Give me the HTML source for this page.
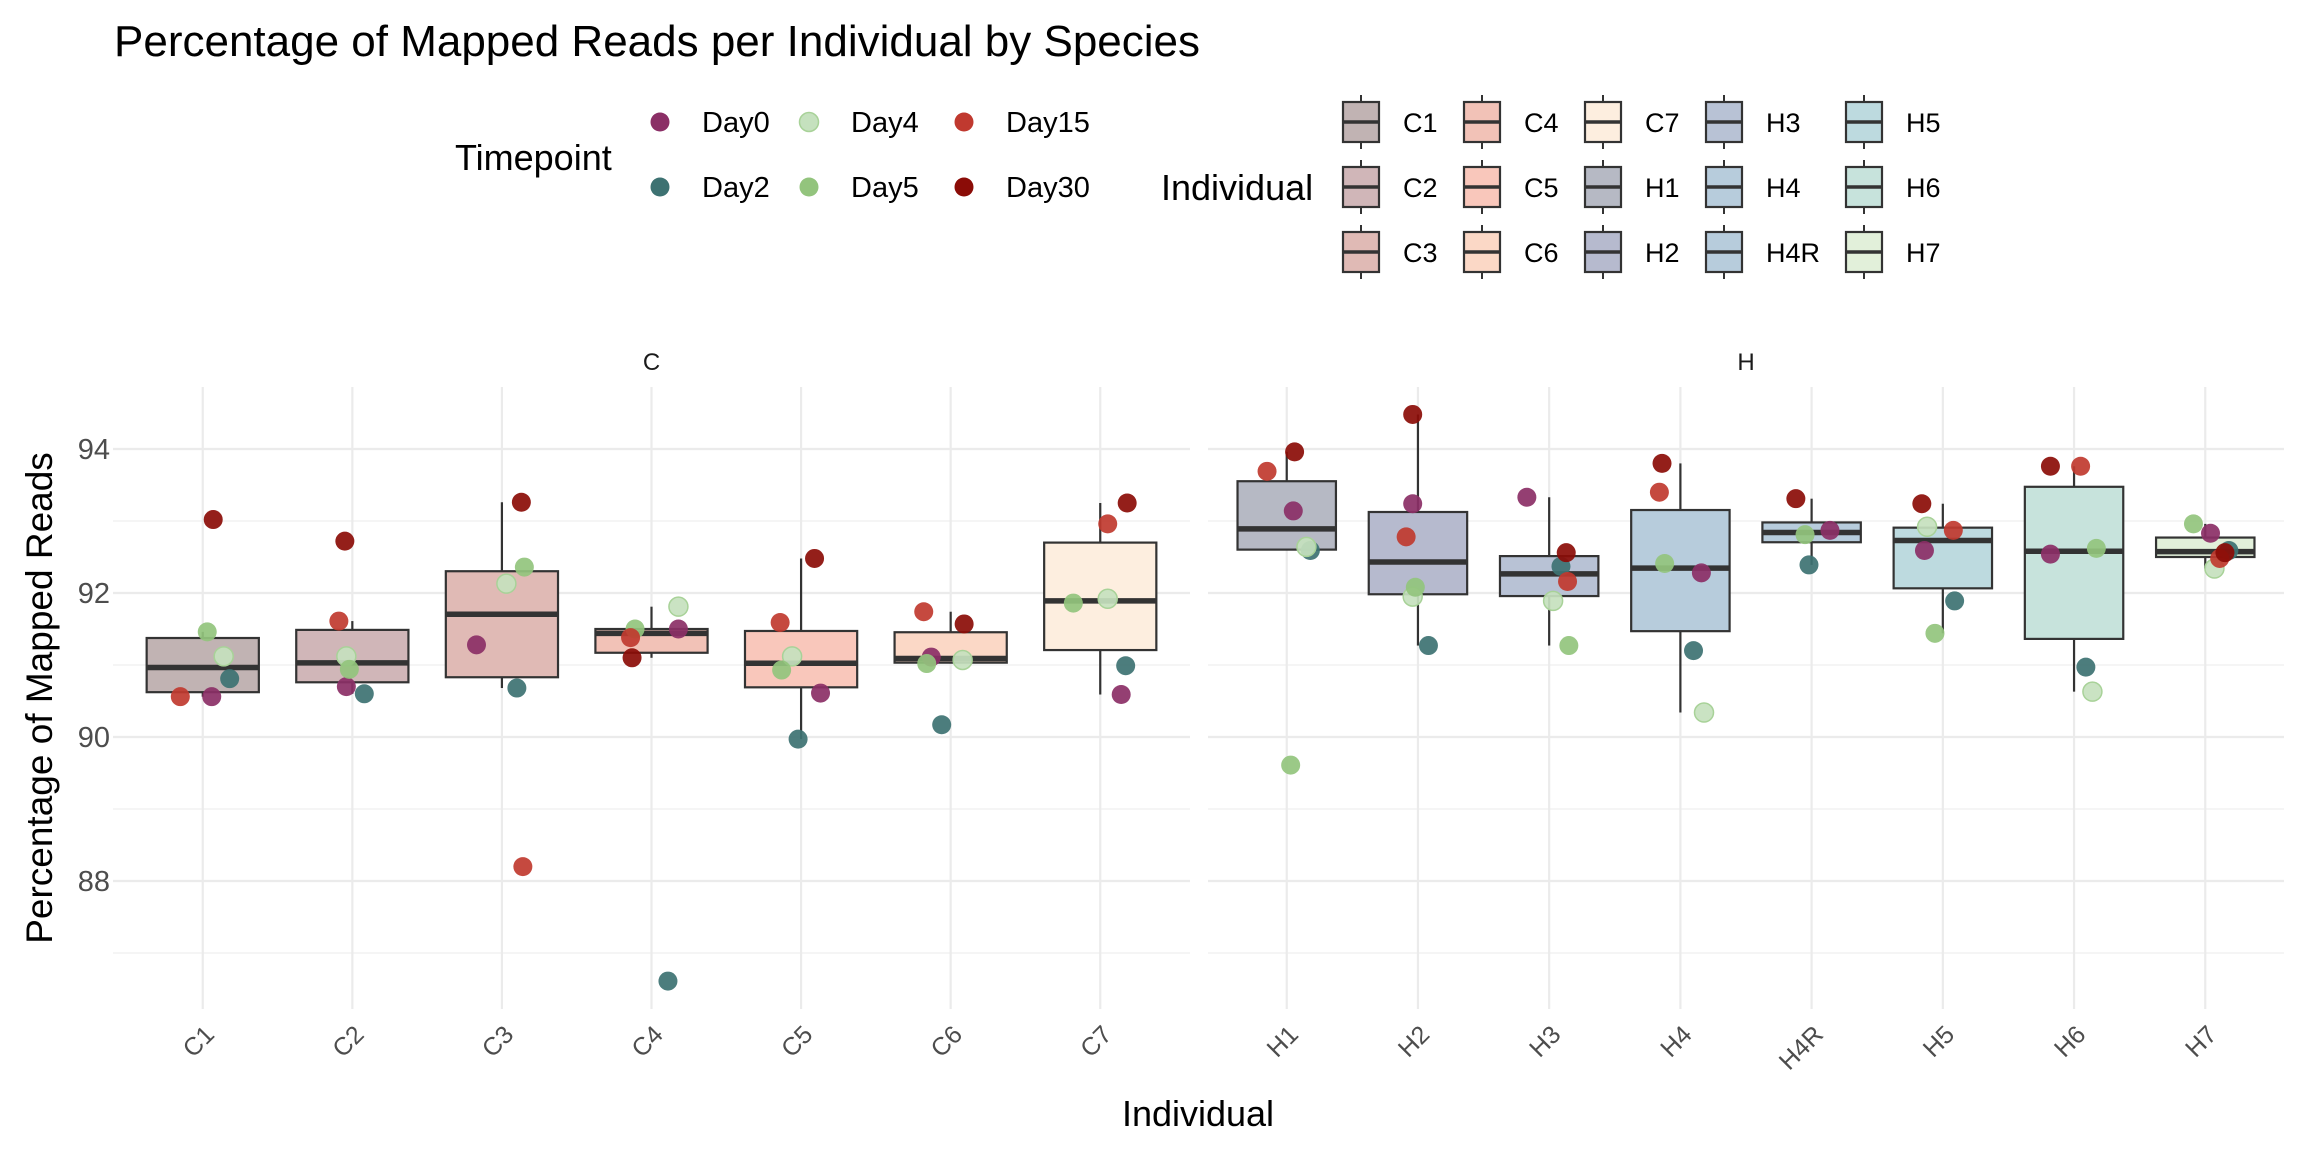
<!DOCTYPE html>
<html><head><meta charset="utf-8">
<style>
html,body{margin:0;padding:0;background:#fff;}
svg{display:block;font-family:"Liberation Sans",Arial,sans-serif;}
</style></head>
<body>
<svg id="chart" width="2304" height="1152" viewBox="0 0 2304 1152" xmlns="http://www.w3.org/2000/svg">
<rect width="2304" height="1152" fill="#fff"/>
<text x="114" y="56" font-size="44" fill="#000">Percentage of Mapped Reads per Individual by Species</text>
<g id="grid"></g><g id="boxes"></g><g id="points"></g><g id="axes"></g><g id="legend"></g>
</svg>
<script>
const speciesC = ["C1","C2","C3","C4","C5","C6","C7"];
const speciesH = ["H1","H2","H3","H4","H4R","H5","H6","H7"];
const timepoints = ["Day0","Day2","Day4","Day5","Day15","Day30"];
const tpColors = ["#8B2F66","#3D7272","#C5E1BE","#93C47D","#C0392F","#8B0C07"];
const fillColors = {C1:"#C1B3B3",C2:"#D0B6B8",C3:"#E0BAB5",C4:"#F2C2B7",C5:"#F9C7BB",C6:"#FBD8C6",C7:"#FDEEDF",H1:"#B6B9C4",H2:"#B6BACE",H3:"#B8C2D5",H4:"#B7CCDC",H4R:"#B7CCDC",H5:"#BDDADF",H6:"#C7E3DC",H7:"#E2F0DA"};
const yTicks = [88,90,92,94];
// values per individual, ordered Day0, Day2, Day4, Day5, Day15, Day30 (null = missing)
const valC1 = [90.56,90.81,91.12,91.46,90.56,93.02];
const valC2 = [90.70,90.60,91.12,90.94,91.61,92.72];
const valC3 = [91.28,90.68,92.13,92.36,88.20,93.26];
const valC4 = [91.50,86.61,91.81,91.50,91.38,91.10];
const valC5 = [90.61,89.97,91.12,90.93,91.59,92.48];
const valC6 = [91.11,90.17,91.07,91.02,91.74,91.57];
const valC7 = [90.59,90.99,91.92,91.86,92.96,93.25];
const valH1 = [93.14,92.59,92.64,89.61,93.69,93.96];
const valH2 = [93.24,91.27,91.95,92.08,92.78,94.48];
const valH3 = [93.33,92.37,91.89,91.27,92.16,92.56];
const valH4 = [92.28,91.20,90.34,92.41,93.40,93.80];
const valH4R = [92.87,92.39,null,92.81,null,93.31];
const valH5 = [92.59,91.89,92.92,91.44,92.87,93.24];
const valH6 = [92.54,90.97,90.63,92.62,93.76,93.76];
const valH7 = [92.83,92.59,92.34,92.96,92.48,92.56];
// horizontal jitter in category units
const jitC1=[.06,.18,.14,.03,-.15,.07], jitC2=[-.04,.08,-.04,-.02,-.09,-.05], jitC3=[-.17,.10,.03,.15,.14,.13];
const jitC4=[.18,.11,.18,-.11,-.14,-.13], jitC5=[.13,-.02,-.06,-.13,-.14,.09], jitC6=[-.13,-.06,.08,-.16,-.18,.09];
const jitC7=[.14,.17,.05,-.18,.05,.18], jitH1=[.05,.18,.15,.03,-.15,.06], jitH2=[-.04,.08,-.04,-.02,-.09,-.04];
const jitH3=[-.17,.09,.03,.15,.14,.13], jitH4=[.16,.10,.18,-.12,-.16,-.14], jitH4R=[.14,-.02,0,-.05,0,-.12];
const jitH5=[-.14,.09,-.12,-.06,.08,-.16], jitH6=[-.18,.09,.14,.17,.05,-.18], jitH7=[.04,.18,.07,-.09,.11,.15];
const vals = {C1:valC1,C2:valC2,C3:valC3,C4:valC4,C5:valC5,C6:valC6,C7:valC7,H1:valH1,H2:valH2,H3:valH3,H4:valH4,H4R:valH4R,H5:valH5,H6:valH6,H7:valH7};
const jits = {C1:jitC1,C2:jitC2,C3:jitC3,C4:jitC4,C5:jitC5,C6:jitC6,C7:jitC7,H1:jitH1,H2:jitH2,H3:jitH3,H4:jitH4,H4R:jitH4R,H5:jitH5,H6:jitH6,H7:jitH7};

const NS="http://www.w3.org/2000/svg";
function mk(tag,attrs,parent){const e=document.createElementNS(NS,tag);for(const k in attrs)e.setAttribute(k,attrs[k]);parent.appendChild(e);return e;}
const panels=[{name:"C",cats:speciesC,x0:113,x1:1190},{name:"H",cats:speciesH,x0:1208,x1:2284}];
const pTop=387,pBot=1009;
function y(v){return 449+(94-v)*72;}
function xScale(p,i){const w=(p.x1-p.x0)/(p.cats.length-1+1.2);return p.x0+(0.6+i)*w;}
function bandW(p){return (p.x1-p.x0)/(p.cats.length-1+1.2);}
function q(s,p){const h=(s.length-1)*p,lo=Math.floor(h);return s[lo]+(h-lo)*((s[Math.min(lo+1,s.length-1)])-s[lo]);}
const G=document.getElementById('grid'),B=document.getElementById('boxes'),P=document.getElementById('points'),A=document.getElementById('axes'),L=document.getElementById('legend');

panels.forEach(p=>{
  for(let v=87;v<=93;v+=2){const l=mk('line',{x1:p.x0,x2:p.x1,y1:y(v),y2:y(v),stroke:'#ebebeb','stroke-width':1.1},G);
    }
  yTicks.forEach(v=>{const l=mk('line',{x1:p.x0,x2:p.x1,y1:y(v),y2:y(v),stroke:'#ebebeb','stroke-width':2.2},G);
    });
  p.cats.forEach((c,i)=>{const x=xScale(p,i);const l=mk('line',{x1:x,x2:x,y1:pTop,y2:pBot,stroke:'#ebebeb','stroke-width':2.2},G);
    
    const t=mk('text',{x:0,y:0,'font-size':25,fill:'#4d4d4d','text-anchor':'end',transform:`translate(${x+13},${1036}) rotate(-45)`},A);
    t.textContent=c;
  });
  const st=mk('text',{x:(p.x0+p.x1)/2,y:370,'font-size':24,fill:'#1a1a1a','text-anchor':'middle'},A);
  st.textContent=p.name;
  p.cats.forEach((c,i)=>{
    const x=xScale(p,i),bw=bandW(p)*0.75;
    const s=vals[c].filter(v=>v!==null).slice().sort((a,b)=>a-b);
    const q1=q(s,.25),md=q(s,.5),q3=q(s,.75),iqr=q3-q1;
    const inl=s.filter(v=>v>=q1-1.5*iqr&&v<=q3+1.5*iqr);
    const g=mk('g',{},B);
    mk('line',{x1:x,x2:x,y1:y(q3),y2:y(Math.max(...inl)),stroke:'#333','stroke-width':2.2},g);
    mk('line',{x1:x,x2:x,y1:y(q1),y2:y(Math.min(...inl)),stroke:'#333','stroke-width':2.2},g);
    mk('rect',{x:x-bw/2,y:y(q3),width:bw,height:y(q1)-y(q3),fill:fillColors[c],stroke:'#333','stroke-width':2.2},g);
    mk('line',{x1:x-bw/2,x2:x+bw/2,y1:y(md),y2:y(md),stroke:'#333','stroke-width':5.5},g);
    vals[c].forEach((v,k)=>{if(v===null)return;
      const cx=x+jits[c][k]*bandW(p);
      const pt=mk('circle',{cx:cx,cy:y(v),r:9.5,fill:tpColors[k],'fill-opacity':0.92,stroke:k===2?'#A8D298':'none','stroke-width':1.5},P);
      
      
    });
  });
});
yTicks.forEach(v=>{const t=mk('text',{x:110,y:y(v)+10,'font-size':29,fill:'#4d4d4d','text-anchor':'end'},A);
  t.textContent=v;});
const yt=mk('text',{x:0,y:0,'font-size':37,fill:'#000','text-anchor':'middle',transform:'translate(52,698) rotate(-90)'},A);
yt.textContent='Percentage of Mapped Reads';
const xt=mk('text',{x:1198,y:1126,'font-size':36,fill:'#000','text-anchor':'middle'},A);
xt.textContent='Individual';

const tl=mk('text',{x:455,y:170,'font-size':36,fill:'#000'},L);
tl.textContent='Timepoint';
const tpCols=[660,809,964],tpRows=[122,187];
timepoints.forEach((tp,k)=>{const cx=tpCols[Math.floor(k/2)],cy=tpRows[k%2];
  const g=mk('g',{},L);
  mk('circle',{cx:cx,cy:cy,r:9.5,fill:tpColors[k],stroke:k===2?'#A8D298':'none','stroke-width':1.5},g);
  const t=mk('text',{x:cx+42,y:cy+10,'font-size':29,fill:'#000'},g);t.textContent=tp;});
const il=mk('text',{x:1161,y:200,'font-size':36,fill:'#000'},L);
il.textContent='Individual';
const indCols=[1343,1464,1585,1706,1846],indRows=[122,187,252];
const allInd=speciesC.concat(speciesH);
allInd.forEach((c,k)=>{const lx=indCols[Math.floor(k/3)],cy=indRows[k%3];
  const g=mk('g',{},L);
  mk('line',{x1:lx+18,x2:lx+18,y1:cy-27,y2:cy+27,stroke:'#333','stroke-width':2},g);
  mk('rect',{x:lx,y:cy-20,width:36,height:40,fill:fillColors[c],stroke:'#333','stroke-width':2.2},g);
  mk('line',{x1:lx,x2:lx+36,y1:cy,y2:cy,stroke:'#333','stroke-width':3.5},g);
  const t=mk('text',{x:lx+60,y:cy+10,'font-size':27,fill:'#000'},g);t.textContent=c;});
</script>
</body></html>
